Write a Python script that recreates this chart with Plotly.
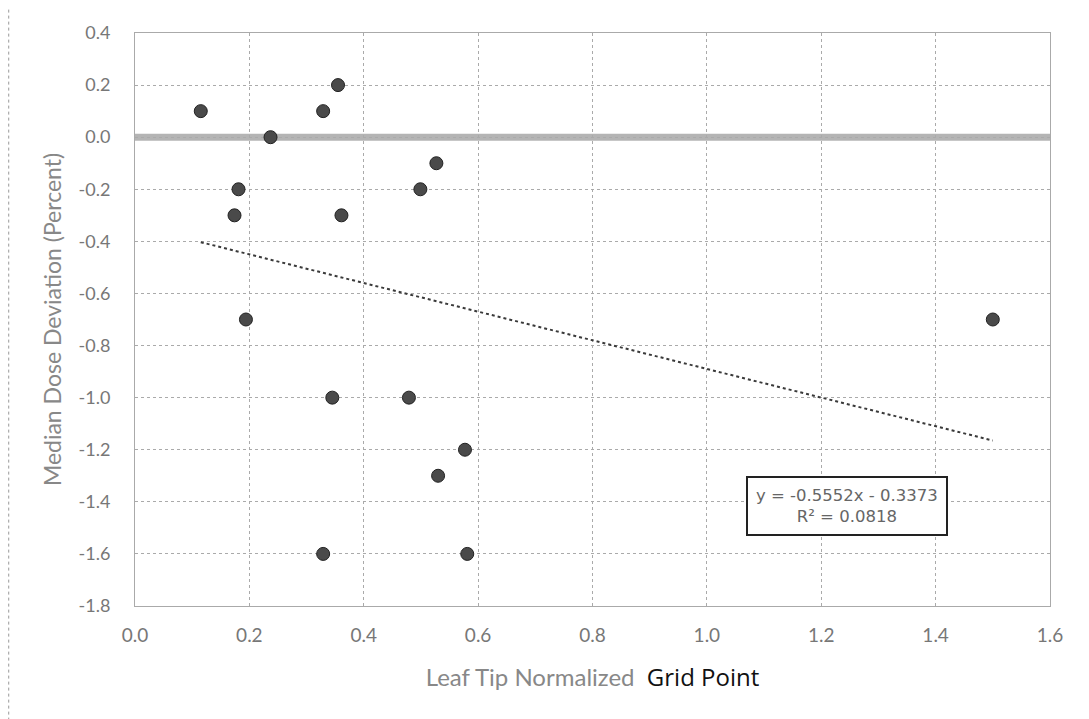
import numpy as np
import plotly.graph_objects as go

# Data
x_vals = [0.115, 0.237, 0.355, 0.329, 0.527, 0.499, 0.181, 0.174, 0.361,
          0.194, 0.345, 0.479, 0.577, 0.530, 0.329, 0.581, 1.50]
y_vals = [0.1, 0.0, 0.2, 0.1, -0.1, -0.2, -0.2, -0.3, -0.3,
          -0.7, -1.0, -1.0, -1.2, -1.3, -1.6, -1.6, -0.7]

x_ticks = [0.0, 0.2, 0.4, 0.6, 0.8, 1.0, 1.2, 1.4, 1.6]
x_ticktext = ["0.0", "0.2", "0.4", "0.6", "0.8", "1.0", "1.2", "1.4", "1.6"]
y_ticks = [0.4, 0.2, 0.0, -0.2, -0.4, -0.6, -0.8, -1.0, -1.2, -1.4, -1.6, -1.8]
y_ticktext = ["0.4", "0.2", "0.0", "-0.2", "-0.4", "-0.6", "-0.8", "-1.0",
              "-1.2", "-1.4", "-1.6", "-1.8"]

eq_text = "y = -0.5552x - 0.3373<br>R² = 0.0818"

# Linear trendline over the data range
slope, intercept = np.polyfit(x_vals, y_vals, 1)
tx = np.array([min(x_vals), max(x_vals)])
ty = slope * tx + intercept

fig = go.Figure()

# zero reference band
fig.add_shape(type="line", xref="x", yref="y", x0=0, x1=1.6, y0=0, y1=0,
              line=dict(color="#b4b4b4", width=7), layer="below")

fig.add_trace(go.Scatter(x=tx, y=ty, mode="lines",
                         line=dict(color="#3a3a3a", width=2, dash="dot"),
                         showlegend=False, hoverinfo="skip"))

fig.add_trace(go.Scatter(x=x_vals, y=y_vals, mode="markers",
                         marker=dict(symbol="circle", size=13, color="#4a4a4a",
                                     line=dict(color="#222", width=1)),
                         showlegend=False))

fig.add_annotation(x=1.245, y=-1.415, xref="x", yref="y", text=eq_text,
                   showarrow=False, align="center",
                   font=dict(family="DejaVu Sans, sans-serif", size=16.5, color="#666"),
                   bgcolor="white", bordercolor="#222", borderwidth=2, borderpad=8)

# outer dotted chart border on the left
fig.add_shape(type="line", xref="paper", yref="paper", x0=-0.138, x1=-0.138,
              y0=-0.2, y1=1.06,
              line=dict(color="#999", width=1, dash="dot"))

fig.update_layout(
    width=1089, height=719,
    margin=dict(l=127, r=47, t=25, b=121),
    paper_bgcolor="white", plot_bgcolor="white",
    font=dict(family="Lato, Liberation Sans, sans-serif", color="#777", size=18),
    xaxis=dict(range=[0, 1.6], tickvals=x_ticks, ticktext=x_ticktext,
               showgrid=True, gridcolor="#aaa", griddash="dot", gridwidth=1,
               zeroline=False, showline=True, linecolor="#aaa", mirror=True,
               ticks="", ticklabelstandoff=12,
               tickfont=dict(size=19, color="#777"),
               title=dict(text="Leaf Tip Normalized  <span style='color:#111;font-family:Open Sans'>Grid Point</span>",
                          font=dict(size=24, color="#888"), standoff=24)),
    yaxis=dict(range=[-1.8, 0.4], tickvals=y_ticks, ticktext=y_ticktext,
               showgrid=True, gridcolor="#aaa", griddash="dot", gridwidth=1,
               zeroline=False, showline=True, linecolor="#aaa", mirror=True,
               ticks="", ticklabelstandoff=20,
               tickfont=dict(size=18, color="#777"),
               title=dict(text="Median Dose Deviation (Percent)",
                          font=dict(size=23, color="#888"), standoff=10)),
)

fig.write_html("out.html")
